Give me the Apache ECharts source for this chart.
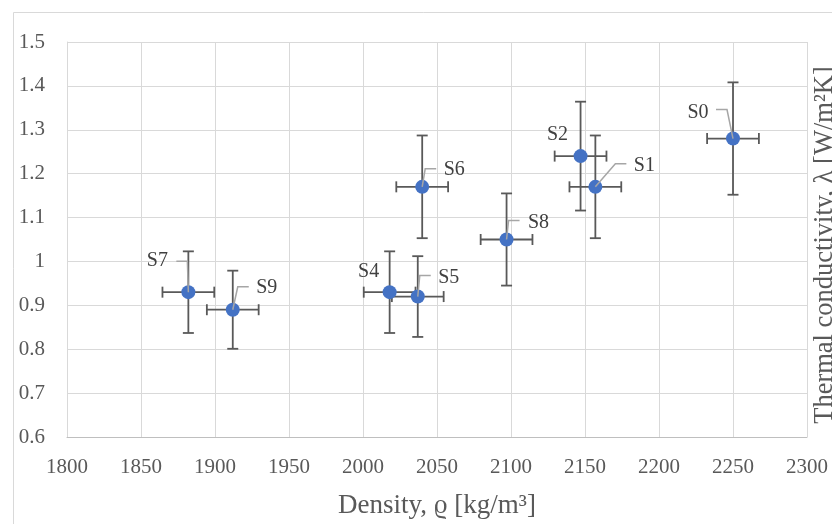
<!DOCTYPE html>
<html>
<head>
<meta charset="utf-8">
<script src="https://cdn.jsdelivr.net/npm/echarts@6/dist/echarts.min.js"></script>
<style>
html,body{margin:0;padding:0;background:#fff;}
#chart{width:832px;height:524px;}
</style>
</head>
<body>
<div id="chart"></div>
<script>
// ---- data ----
const sampleNames   = ['S0', 'S1', 'S2', 'S4', 'S5', 'S6', 'S7', 'S8', 'S9'];
const density       = [2250, 2157, 2147, 2018, 2037, 2040, 1882, 2097, 1912];
const conductivity  = [1.28, 1.17, 1.24, 0.93, 0.92, 1.17, 0.93, 1.05, 0.89];
const densityErr    = [17.5, 17.5, 17.5, 17.5, 17.5, 17.5, 17.5, 17.5, 17.5];
const conductivityErr = [0.128, 0.117, 0.124, 0.093, 0.092, 0.117, 0.093, 0.105, 0.089];
const xTicks = { min: 1800, max: 2300, step: 50 };
const yTicks = { min: 0.6, max: 1.5, step: 0.1 };
const xTitle = 'Density, ϱ [kg/m³]';
const yTitle = 'Thermal conductivity, λ [W/m²K]';

// ---- label placement (pixel offsets of label text from its point; styling only) ----
const labelPlacement = {
  S0: { dx: -35, dy: -26, leader: [[-17, -29], [-6, -29]] },
  S1: { dx: 49,  dy: -21, leader: [[31, -23], [20, -23]] },
  S2: { dx: -23, dy: -21, leader: null },
  S4: { dx: -21, dy: -20, leader: null },
  S5: { dx: 31,  dy: -19, leader: [[13, -21], [2, -21]] },
  S6: { dx: 32,  dy: -17, leader: [[14, -18], [3, -18]] },
  S7: { dx: -31, dy: -31, leader: [[-12, -31], [-1, -31]] },
  S8: { dx: 32,  dy: -17, leader: [[13, -19], [2, -19]] },
  S9: { dx: 34,  dy: -22, leader: [[16, -23], [5, -23]] }
};

const FONT = '"Liberation Serif", "DejaVu Serif", serif';
const points = density.map((d, i) => [d, conductivity[i]]);
const errData = density.map((d, i) => [d, conductivity[i], densityErr[i], conductivityErr[i]]);

const chart = echarts.init(document.getElementById('chart'), null, { renderer: 'canvas' });

const option = {
  animation: false,
  backgroundColor: '#ffffff',
  grid: { left: 67, right: 25, top: 42, bottom: 82, containLabel: false },
  xAxis: {
    type: 'value',
    min: xTicks.min, max: xTicks.max, interval: xTicks.step,
    name: xTitle, nameLocation: 'middle', nameGap: 55,
    nameTextStyle: { fontFamily: FONT, fontSize: 27, color: '#595959' },
    axisLine: { show: true, lineStyle: { color: '#bfbfbf', width: 1 } },
    axisTick: { show: false },
    axisLabel: { fontFamily: FONT, fontSize: 21, color: '#595959', margin: 20,
                 formatter: v => String(v) },
    splitLine: { show: true, lineStyle: { color: '#d9d9d9', width: 1 } }
  },
  yAxis: {
    type: 'value',
    min: yTicks.min, max: yTicks.max, interval: yTicks.step,
    axisLine: { show: true, lineStyle: { color: '#d9d9d9', width: 1 } },
    axisTick: { show: false },
    axisLabel: { fontFamily: FONT, fontSize: 21, color: '#595959', margin: 22,
                 formatter: v => String(Math.round(v * 10) / 10) },
    splitLine: { show: true, lineStyle: { color: '#d9d9d9', width: 1 } }
  },
  graphic: [
    { type: 'rect', silent: true, z: -10,
      shape: { x: 13.5, y: 12.5, width: 900, height: 600 },
      style: { fill: 'none', stroke: '#d9d9d9', lineWidth: 1 } },
    { type: 'text', silent: true, x: 825, y: 245, rotation: Math.PI / 2,
      style: { text: yTitle, fontFamily: FONT, fontSize: 26.5, fill: '#595959',
               textAlign: 'center', textVerticalAlign: 'middle' } }
  ],
  series: [
    {
      type: 'custom',
      name: 'errors',
      z: 2,
      renderItem: function (params, api) {
        const x = api.value(0), y = api.value(1), ex = api.value(2), ey = api.value(3);
        const top = api.coord([x, y + ey]);
        const bot = api.coord([x, y - ey]);
        const lft = api.coord([x - ex, y]);
        const rgt = api.coord([x + ex, y]);
        const cap = 5.5;
        const st = { stroke: '#595959', lineWidth: 1.8, fill: null };
        const line = (x1, y1, x2, y2) => ({ type: 'line', shape: { x1, y1, x2, y2 }, style: st });
        return {
          type: 'group',
          children: [
            line(top[0], top[1], bot[0], bot[1]),
            line(top[0] - cap, top[1], top[0] + cap, top[1]),
            line(bot[0] - cap, bot[1], bot[0] + cap, bot[1]),
            line(lft[0], lft[1], rgt[0], rgt[1]),
            line(lft[0], lft[1] - cap, lft[0], lft[1] + cap),
            line(rgt[0], rgt[1] - cap, rgt[0], rgt[1] + cap)
          ]
        };
      },
      data: errData
    },
    {
      type: 'scatter',
      name: 'samples',
      z: 3,
      symbol: 'circle',
      symbolSize: 14,
      itemStyle: { color: '#4472C4', opacity: 1 },
      data: points
    },
    {
      type: 'custom',
      name: 'labels',
      z: 4,
      renderItem: function (params, api) {
        const name = sampleNames[params.dataIndex];
        const p = api.coord([api.value(0), api.value(1)]);
        const lp = labelPlacement[name];
        const children = [];
        if (lp.leader) {
          const pts = lp.leader.map(o => [p[0] + o[0], p[1] + o[1]]);
          pts.push([p[0], p[1]]);
          children.push({ type: 'polyline', shape: { points: pts },
            style: { stroke: '#a6a6a6', lineWidth: 1.5, fill: null } });
        }
        children.push({ type: 'text', x: p[0] + lp.dx, y: p[1] + lp.dy,
          style: { text: name, fontFamily: FONT, fontSize: 20, fill: '#404040',
                   textAlign: 'center', textVerticalAlign: 'middle' } });
        return { type: 'group', children };
      },
      data: points
    }
  ]
};
chart.setOption(option);
</script>
</body>
</html>
